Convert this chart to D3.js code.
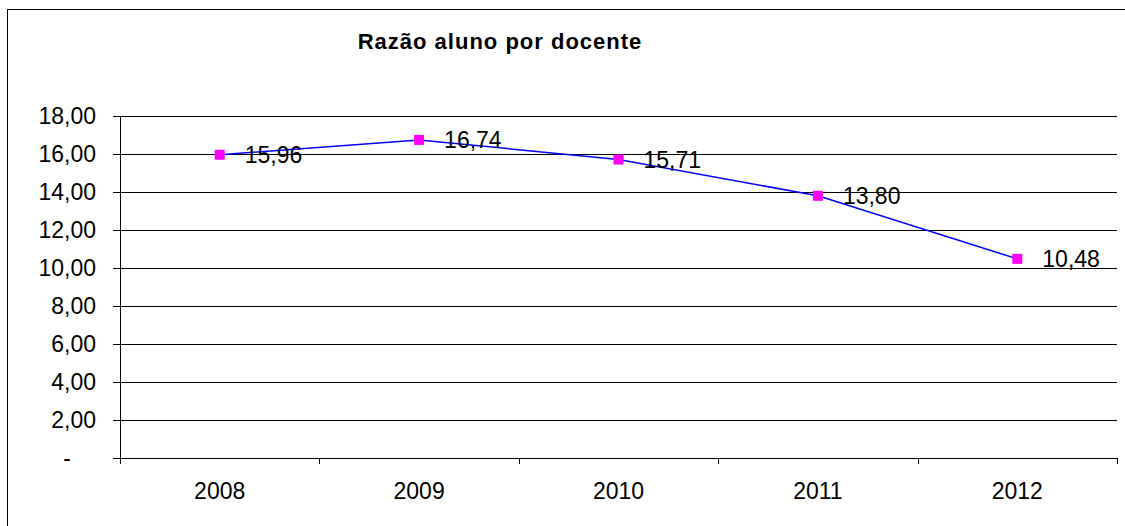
<!DOCTYPE html>
<html lang="pt">
<head>
<meta charset="utf-8">
<title>Razão aluno por docente</title>
<script src="https://d3js.org/d3.v7.min.js"></script>
<style>
  body { margin: 0; background: #fff; }
  svg text { font-family: "Liberation Sans", Arial, sans-serif; fill: #000; }
  .axis path, .axis line { stroke: #000; shape-rendering: crispEdges; }
  .grid line { stroke: #000; shape-rendering: crispEdges; }
  .grid path { display: none; }
</style>
</head>
<body>
<div id="chart"></div>
<script>
// data
var years = ["2008", "2009", "2010", "2011", "2012"];
var ratio = [15.96, 16.74, 15.71, 13.80, 10.48];
var yTicks = [0, 2, 4, 6, 8, 10, 12, 14, 16, 18];

var w = 1125, h = 526;
var plot = {left: 120, right: 1117, top: 116, bottom: 458};

var svg = d3.select("#chart").append("svg")
    .attr("width", w)
    .attr("height", h);

// outer frame (cut off at right and bottom like the picture)
svg.append("rect")
    .attr("x", 7.5).attr("y", 9.5)
    .attr("width", 1140).attr("height", 540)
    .attr("fill", "none")
    .attr("stroke", "#000");

var x = d3.scaleBand().domain(years).range([plot.left, plot.right]);
var xEdge = d3.scaleLinear().domain([0, years.length]).range([plot.left, plot.right]);
var y = d3.scaleLinear().domain([0, 18]).range([plot.bottom, plot.top]);

var fmt = function (d) {
  return d === 0 ? "-" : d3.format(".2f")(d).replace(".", ",");
};

// gridlines
svg.append("g")
    .attr("class", "grid")
    .attr("transform", "translate(" + plot.left + ",0)")
    .call(d3.axisRight(y).tickValues(yTicks).tickSize(plot.right - plot.left).tickFormat(""));

// y axis
var yAxis = svg.append("g")
    .attr("class", "axis")
    .attr("transform", "translate(" + plot.left + ",0)")
    .call(d3.axisLeft(y).tickValues(yTicks).tickSize(7).tickSizeOuter(0).tickFormat(fmt));
yAxis.selectAll("text")
    .attr("x", -24)
    .attr("dy", "0.34em")
    .style("font-size", "23px");
yAxis.selectAll(".tick text").filter(function (d) { return d === 0; })
    .attr("text-anchor", "middle")
    .attr("x", -53);

// x axis ticks at category edges
svg.append("g")
    .attr("class", "axis")
    .attr("transform", "translate(0," + plot.bottom + ")")
    .call(d3.axisBottom(xEdge).ticks(years.length).tickSize(6).tickSizeOuter(0).tickFormat(""));

// x labels
var xAxis = svg.append("g")
    .attr("class", "axis")
    .attr("transform", "translate(0," + plot.bottom + ")")
    .call(d3.axisBottom(x).tickSize(0));
xAxis.select(".domain").remove();
xAxis.selectAll("text")
    .attr("y", 25)
    .attr("dy", "0.71em")
    .style("font-size", "23px");

// line
var line = d3.line()
    .x(function (d, i) { return x(years[i]) + x.bandwidth() / 2; })
    .y(function (d) { return y(d); });

svg.append("path")
    .datum(ratio)
    .attr("d", line)
    .attr("fill", "none")
    .attr("stroke", "#0000ff")
    .attr("stroke-width", 1.5);

// markers
svg.selectAll(".marker")
    .data(ratio)
    .enter().append("rect")
    .attr("class", "marker")
    .attr("x", function (d, i) { return x(years[i]) + x.bandwidth() / 2 - 5; })
    .attr("y", function (d) { return y(d) - 5; })
    .attr("width", 10)
    .attr("height", 10)
    .attr("fill", "#ff00ff");

// value labels
svg.selectAll(".value")
    .data(ratio)
    .enter().append("text")
    .attr("class", "value")
    .attr("x", function (d, i) { return x(years[i]) + x.bandwidth() / 2 + 25; })
    .attr("y", function (d) { return y(d); })
    .attr("dy", "0.36em")
    .style("font-size", "23px")
    .text(fmt);

// title
svg.append("text")
    .attr("x", 500)
    .attr("y", 49)
    .attr("text-anchor", "middle")
    .style("font-size", "22px")
    .style("font-weight", "bold")
    .style("letter-spacing", "1px")
    .text("Razão aluno por docente");
</script>
</body>
</html>
